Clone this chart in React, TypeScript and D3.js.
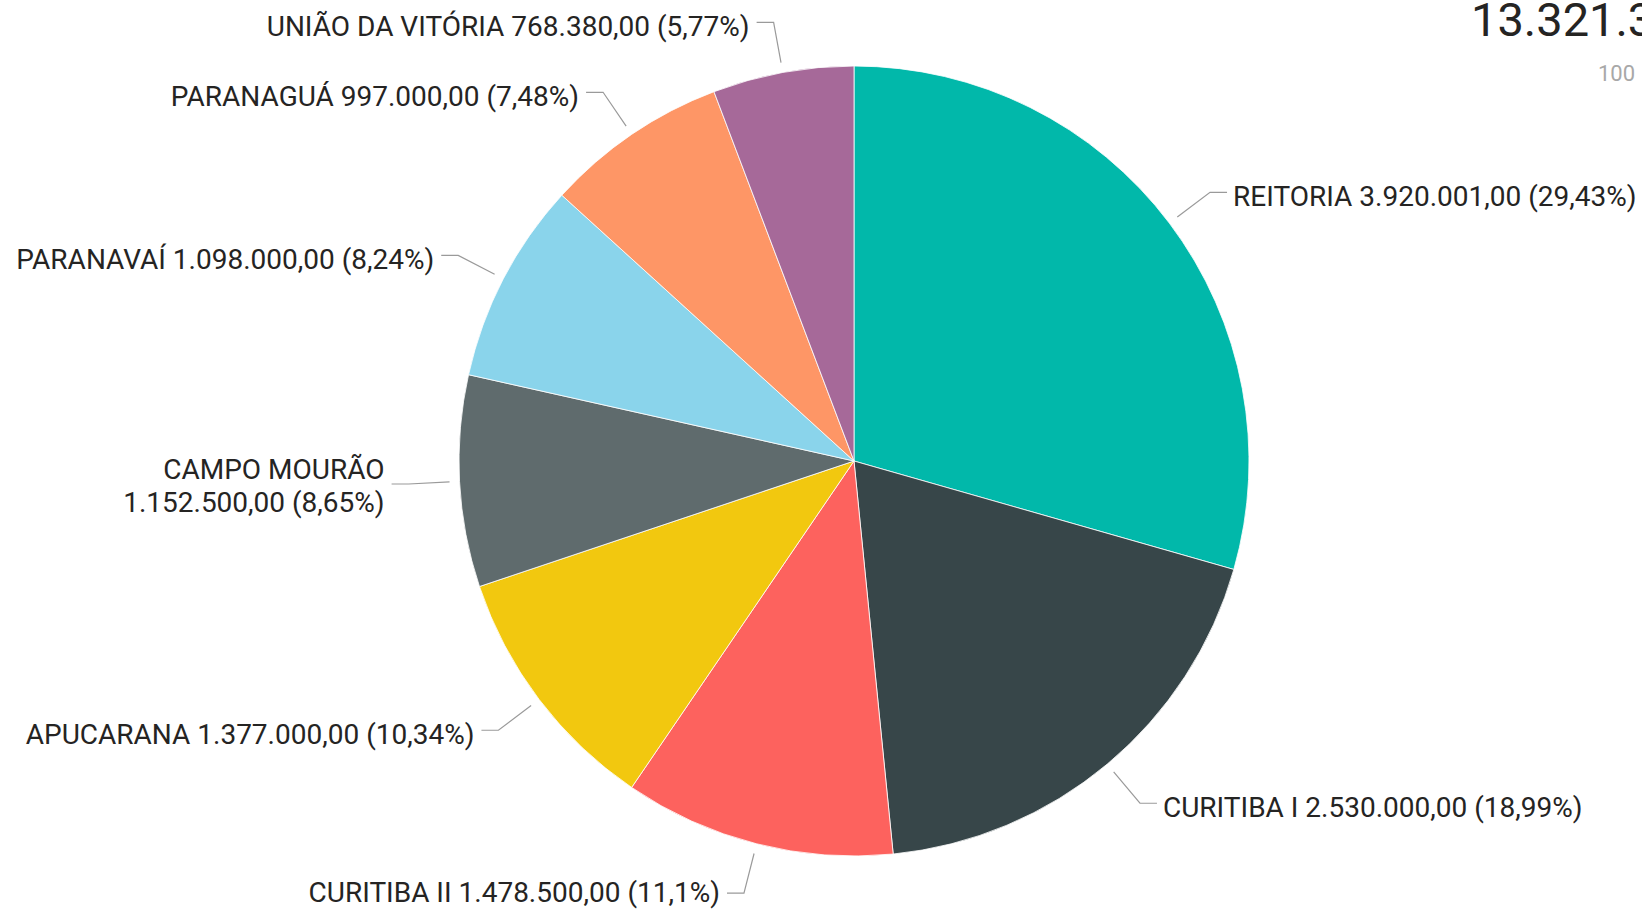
import React from "react";
import * as d3 from "d3";

const categories = [
  "REITORIA",
  "CURITIBA I",
  "CURITIBA II",
  "APUCARANA",
  "CAMPO MOURÃO",
  "PARANAVAÍ",
  "PARANAGUÁ",
  "UNIÃO DA VITÓRIA",
];
const values = [3920001, 2530000, 1478500, 1377000, 1152500, 1098000, 997000, 768380];
const colors = ["#01B8AA", "#374649", "#FD625E", "#F2C80F", "#5F6B6D", "#8AD4EB", "#FE9666", "#A66999"];
const cardValue = "13.321.381,00";
const cardSub = "100";

const W = 1642;
const H = 911;
const CX = 854;
const CY = 461;
const R = 395;
const FONT = "Roboto, 'DejaVu Sans', sans-serif";
const FS = 28;

const locale = d3.formatLocale({ decimal: ",", thousands: ".", grouping: [3], currency: ["R$", ""] });
const fmtVal = locale.format(",.2f");
const fmtPct = locale.format(".2~f");

let ctx: CanvasRenderingContext2D | null = null;
function measure(s: string): number {
  if (typeof document === "undefined") return s.length * 13.5;
  if (!ctx) ctx = document.createElement("canvas").getContext("2d");
  if (!ctx) return s.length * 13.5;
  ctx.font = `${FS}px Roboto`;
  return ctx.measureText(s).width;
}

export default function App() {
  const total = d3.sum(values);
  const pie = d3.pie<number>().sort(null).value((d) => d)(values);
  const arc = d3.arc<d3.PieArcDatum<number>>().innerRadius(0).outerRadius(R);

  return (
    <svg
      width={W}
      height={H}
      style={{ position: "absolute", left: 0, top: 0, background: "#fff" }}
      fontFamily={FONT}
    >
      <g transform={`translate(${CX},${CY})`}>
        {pie.map((p, i) => (
          <path key={i} d={arc(p) || ""} fill={colors[i]} stroke="#fff" strokeWidth={0.8} />
        ))}
      </g>
      {pie.map((p, i) => {
        const mid = (p.startAngle + p.endAngle) / 2;
        const sx = CX + (R + 10) * Math.sin(mid);
        const sy = CY - (R + 10) * Math.cos(mid);
        const ex = CX + (R + 51) * Math.sin(mid);
        const ey = CY - (R + 51) * Math.cos(mid);
        const right = Math.sin(mid) > 0;
        const hx = right ? ex + 17 : ex - 17;
        const tx = right ? hx + 6 : hx - 7;
        const name = categories[i];
        const valTxt = `${fmtVal(values[i])} (${fmtPct((values[i] / total) * 100)}%)`;
        const full = `${name} ${valTxt}`;
        const avail = right ? W - tx - 4 : tx - 8;
        const wrap = measure(full) > avail;
        return (
          <g key={i}>
            <polyline
              points={`${sx},${sy} ${ex},${ey} ${hx},${ey}`}
              fill="none"
              stroke="#9a9a9a"
              strokeWidth={1.2}
            />
            {wrap ? (
              <text x={tx} y={ey} fontSize={FS} fill="#252423" textAnchor={right ? "start" : "end"}>
                <tspan x={tx} dy={-5}>{name}</tspan>
                <tspan x={tx} dy={33}>{valTxt}</tspan>
              </text>
            ) : (
              <text
                x={tx}
                y={Math.min(ey + 14, H - 9)}
                fontSize={FS}
                fill="#252423"
                textAnchor={right ? "start" : "end"}
              >
                {full}
              </text>
            )}
          </g>
        );
      })}
      <text x={1471} y={36} fontSize={47} fill="#252423">{cardValue}</text>
      <text x={1635} y={81} fontSize={22} fill="#a8a8a8" textAnchor="end">{cardSub}</text>
    </svg>
  );
}
